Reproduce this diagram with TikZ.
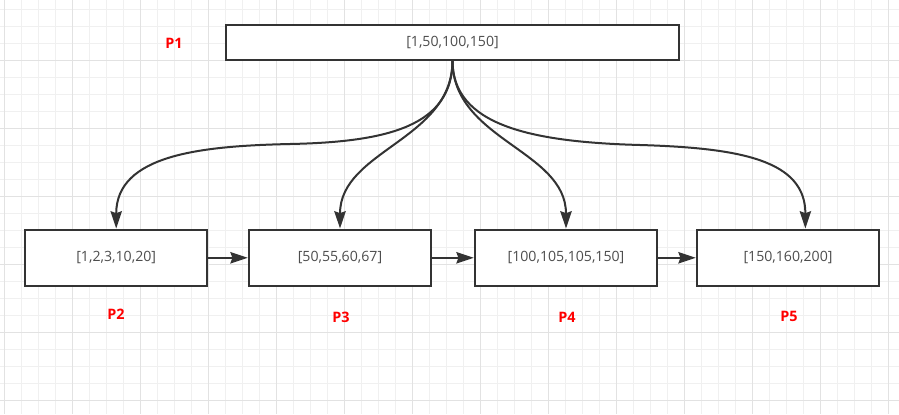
\documentclass[tikz,border=0pt]{standalone}
\usepackage{fontspec}
\setmainfont{Open Sans}
\usetikzlibrary{arrows.meta,positioning}
\definecolor{linegray}{HTML}{333333}
\definecolor{textgray}{HTML}{4D4D4D}
\definecolor{pred}{HTML}{FF0000}
\definecolor{gridlight}{HTML}{F0F0F0}
\definecolor{griddark}{HTML}{E2E2E2}
\begin{document}
\begin{tikzpicture}
  [
  x=0.75pt, y=-0.75pt,
  font=\fontsize{10.6}{12}\selectfont, line width=1.5pt,
  >={Stealth[length=13pt,width=8.5pt,inset=1.5pt]},
  listnode/.style={rectangle, inner sep=0pt, draw=linegray, fill=white, text=textgray,
    minimum width=136.9pt, minimum height=42.4pt},
  rootnode/.style={listnode, minimum width=339.75pt, minimum height=26.25pt},
  plabel/.style={text=pred, font=\fontsize{10.8}{12}\selectfont\bfseries},
  gridminor/.style={line width=0.75pt, draw=gridlight},
  gridmajor/.style={line width=0.75pt, draw=griddark},
  link/.style={->, draw=linegray},
  ]

  \useasboundingbox (0,0) rectangle (899,414);
  \fill[white] (0,0) rectangle (899,414);

  % background grid
  \foreach \gx in {4.5,21.5,...,899} \draw[gridminor] (\gx,0) -- (\gx,414);
  \foreach \gy in {9.3,26.3,...,414} \draw[gridminor] (0,\gy) -- (899,\gy);
  \foreach \gx in {4.5,72.5,...,899} \draw[gridmajor] (\gx,0) -- (\gx,414);
  \foreach \gy in {60.3,128.3,...,414} \draw[gridmajor] (0,\gy) -- (899,\gy);

  \node[rootnode] (P1box) at (452.5,42) {[1,50,100,150]};
  \node[plabel] (P1lab) at (174,43) {P1};

  \node[listnode] (P2box) at (116.2,257.8) {[1,2,3,10,20]};
  \node[listnode] (P3box) at (340,257.8) {[50,55,60,67]};
  \node[listnode] (P4box) at (566,257.8) {[100,105,105,150]};
  \node[listnode] (P5box) at (788,257.8) {[150,160,200]};

  \node[plabel] (P2lab) at (116,314) {P2};
  \node[plabel] (P3lab) at (341,317) {P3};
  \node[plabel] (P4lab) at (567,317) {P4};
  \node[plabel] (P5lab) at (789,316) {P5};

  \draw[link] (P2box) -- (P3box);
  \draw[link] (P3box) -- (P4box);
  \draw[link] (P4box) -- (P5box);

  \draw[link] (P1box.south) .. controls (452.5,125) and (390,142) .. (290,144)
    .. controls (200,146) and (116.2,155) .. (P2box.north);
  \draw[link] (P1box.south) .. controls (452.5,140) and (340,150) .. (P3box.north);
  \draw[link] (P1box.south) .. controls (452.5,140) and (566,150) .. (P4box.north);
  \draw[link] (P1box.south) .. controls (452.5,125) and (530,142) .. (640,145)
    .. controls (740,148) and (805.5,160) .. ([xshift=13pt]P5box.north);

\end{tikzpicture}
\end{document}
